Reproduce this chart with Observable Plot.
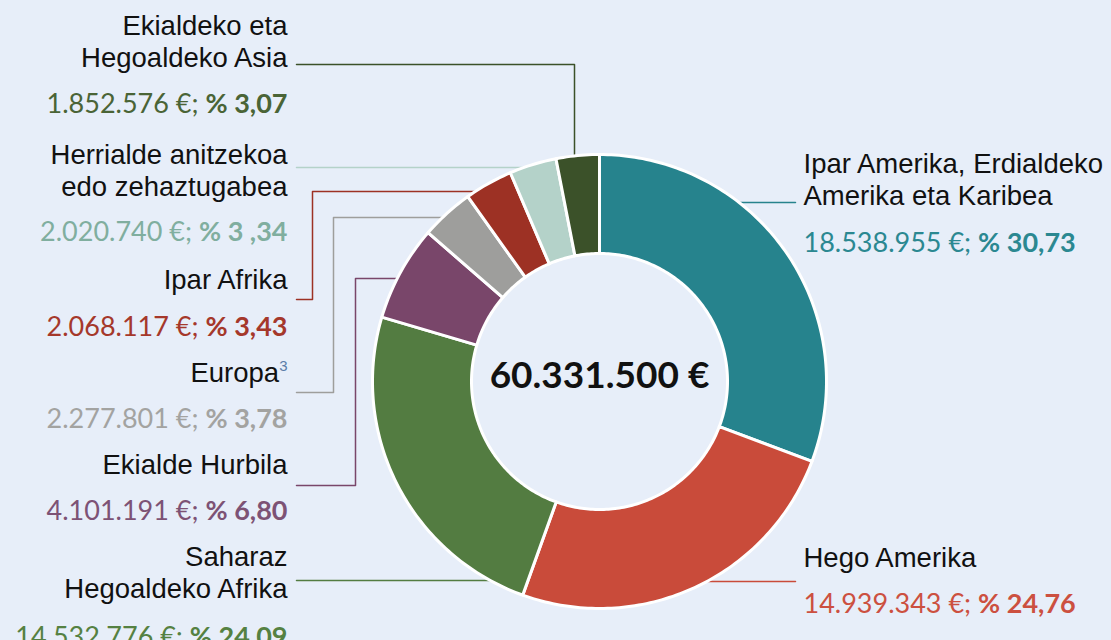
<!DOCTYPE html>
<html><head><meta charset="utf-8">
<script src="https://cdn.jsdelivr.net/npm/d3@7"></script>
<script src="https://cdn.jsdelivr.net/npm/@observablehq/plot@0.6"></script>
<style>
html,body{margin:0;padding:0;background:#e7eef9;}
#chart{width:1111px;height:640px;overflow:hidden;}
</style></head><body><div id="chart"></div>
<script>
// ---- data ----
const regions = ["Ipar Amerika, Erdialdeko\nAmerika eta Karibea","Hego Amerika","Saharaz\nHegoaldeko Afrika","Ekialde Hurbila","Europa","Ipar Afrika","Herrialde anitzekoa\nedo zehaztugabea","Ekialdeko eta\nHegoaldeko Asia"];
const amounts = [18538955,14939343,14532776,4101191,2277801,2068117,2020740,1852576];
const percents = ["30,73","24,76","24,09","6,80","3,78","3,43","3 ,34","3,07"];
const footnotes = ["","","","","3","","",""];
const total = 60331500;

// ---- styles ----
const sliceColors = ["#26838d","#c94b3a","#537c41","#79466a","#9e9e9c","#9d3124","#b4d2c9","#3b5129"];
const textColors  = ["#2b8891","#cc5040","#558142","#7d5275","#a3a3a1","#a5382b","#80ae9f","#4a6436"];

// ---- layout (pixels) ----
const W = 1111, H = 640, CX = 599, CY = 381, R = 227, R_IN = 128;
const labelLayout = [
  {anchor:"start", x:803, nameY:204, valueY:243, path:[[795,202]], end:{h:202}},
  {anchor:"start", x:803, nameY:566, valueY:604, path:[[795,581]], end:{h:581}},
  {anchor:"end",   x:287, nameY:597, valueY:637, path:[[296,580]], end:{h:580}},
  {anchor:"end",   x:287, nameY:473, valueY:511, path:[[296,485],[355,485],[355,278]], end:{h:278}},
  {anchor:"end",   x:287, nameY:381, valueY:419, path:[[296,392],[333,392],[333,217]], end:{h:217}},
  {anchor:"end",   x:287, nameY:288, valueY:327, path:[[296,299],[312,299],[312,191]], end:{h:191}},
  {anchor:"end",   x:287, nameY:195, valueY:232, path:[[296,167]], end:{h:167}},
  {anchor:"end",   x:287, nameY:66,  valueY:104, path:[[296,64],[574,64]], end:{v:574}}
];
const ux = px => (px - CX) / R;
const uy = py => (CY - py) / R;

const loc = d3.formatLocale({decimal:",", thousands:".", grouping:[3], currency:["","€"]});
const fmt = loc.format(",d");

// slices
const cum = d3.cumsum(amounts);
const sum = d3.sum(amounts);
const slicePts = [];
amounts.forEach((v, i) => {
  const f0 = (cum[i] - v) / sum, f1 = cum[i] / sum;
  const a0 = f0 * 2 * Math.PI, a1 = f1 * 2 * Math.PI;
  const n = Math.max(3, Math.ceil((f1 - f0) * 360));
  const rin = R_IN / R;
  for (let k = 0; k <= n; k++) {
    const a = a0 + (a1 - a0) * k / n;
    slicePts.push({id:i, x:Math.sin(a), y:Math.cos(a), color:sliceColors[i]});
  }
  for (let k = n; k >= 0; k--) {
    const a = a0 + (a1 - a0) * k / n;
    slicePts.push({id:i, x:rin*Math.sin(a), y:rin*Math.cos(a), color:sliceColors[i]});
  }
});

// leaders
const leaderPts = [];
const rEnd = R - 5;
labelLayout.forEach((L, i) => {
  const pts = L.path.map(([px, py]) => [px, py]);
  if (L.end.h !== undefined) {
    const dy = L.end.h - CY;
    const sign = L.anchor === "start" ? 1 : -1;
    pts.push([CX + sign * Math.sqrt(rEnd*rEnd - dy*dy), L.end.h]);
  } else {
    const dx = L.end.v - CX;
    pts.push([L.end.v, CY - Math.sqrt(rEnd*rEnd - dx*dx)]);
  }
  pts.forEach(([px, py]) => leaderPts.push({id:i, x:ux(px), y:uy(py), color:sliceColors[i]}));
});

const labels = regions.map((name, i) => ({
  name, i,
  x: ux(labelLayout[i].x),
  nameY: uy(labelLayout[i].nameY),
  valueY: uy(labelLayout[i].valueY),
  anchor: labelLayout[i].anchor,
  value: fmt(amounts[i]) + " €; % " + percents[i],
  color: textColors[i]
}));

const svg = Plot.plot({
  width: W, height: H, margin: 0,
  x: {domain: [ux(0), ux(W)], axis: null},
  y: {domain: [uy(H), uy(0)], axis: null},
  color: {type: "identity"},
  style: {background: "transparent", overflow: "visible"},
  marks: [
    Plot.line(leaderPts, {x:"x", y:"y", z:"id", stroke: d => d.color, strokeWidth: 1.5}),
    Plot.line(slicePts, {x:"x", y:"y", z:"id", fill: d => d.color, stroke:"white", strokeWidth:3, curve:"linear-closed", strokeLinejoin:"round"}),
    Plot.text([total], {x: () => 0, y: () => 0, text: d => fmt(d) + " €", fontSize: 37, fontWeight: 700, fontFamily: "Lato, 'Open Sans', sans-serif", fill: "#111", dy: -5}),
    Plot.text(labels.filter(d => d.anchor === "end"), {x:"x", y:"nameY", text:"name", textAnchor:"end", lineAnchor:"bottom", lineHeight: 32/27.5, fontSize: 27.5, fontFamily: "'Liberation Sans', Arial, sans-serif", fill: "#111"}),
    Plot.text(labels.filter(d => d.anchor === "start"), {x:"x", y:"nameY", text:"name", textAnchor:"start", lineAnchor:"bottom", lineHeight: 32/27.5, fontSize: 27.5, fontFamily: "'Liberation Sans', Arial, sans-serif", fill: "#111"}),
    Plot.text(labels.filter(d => d.anchor === "end"), {x:"x", y:"valueY", text:"value", textAnchor:"end", fontSize: 27, fontFamily: "Lato, sans-serif", fill: d => d.color}),
    Plot.text(labels.filter(d => d.anchor === "start"), {x:"x", y:"valueY", text:"value", textAnchor:"start", fontSize: 27, fontFamily: "Lato, sans-serif", fill: d => d.color})
  ]
});

// rich text: bold percentage & footnote superscripts
d3.select(svg).selectAll("text").each(function() {
  const el = d3.select(this);
  const t = this.textContent;
  if (this.childElementCount === 0 && t.includes("€; ")) {
    const k = t.indexOf("; ") + 2;
    el.text(null);
    el.append("tspan").text(t.slice(0, k));
    el.append("tspan").attr("font-weight", 700).text(t.slice(k));
  }
  regions.forEach((r, i) => {
    if (footnotes[i] && t === r && this.childElementCount === 0) {
      el.append("tspan").attr("font-size", 15).attr("fill", "#5b7ca8").attr("dy", -11).text(footnotes[i]);
    }
  });
});

document.getElementById("chart").appendChild(svg);
</script>
</body></html>
